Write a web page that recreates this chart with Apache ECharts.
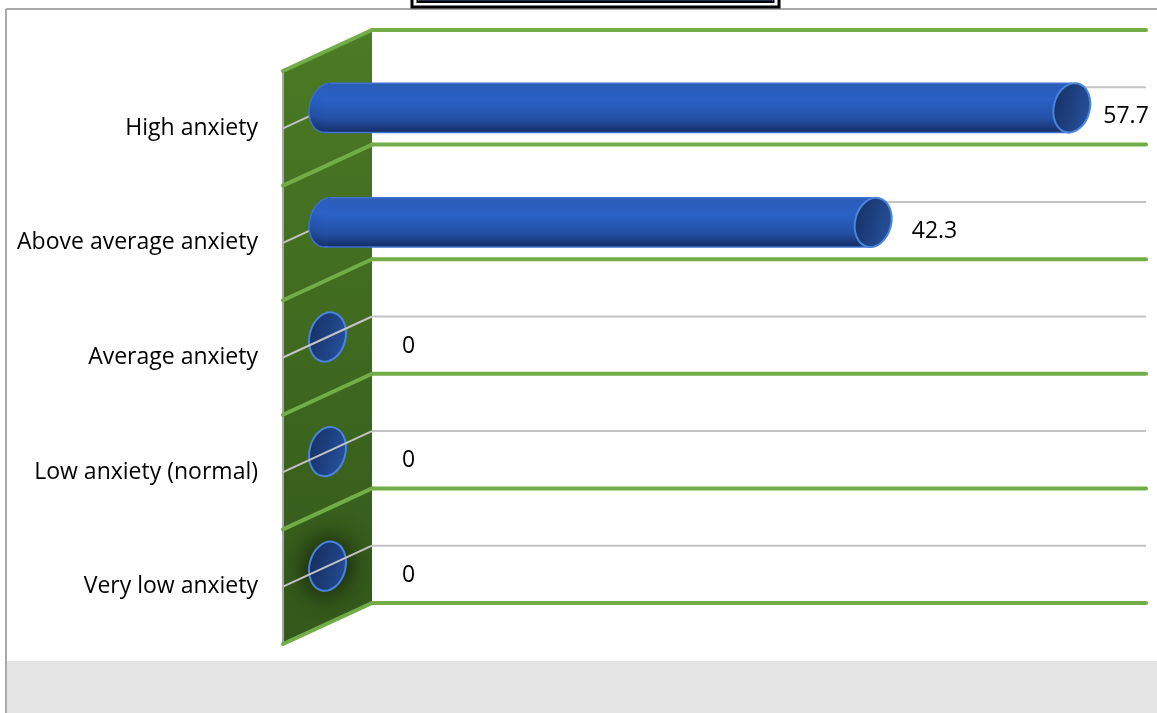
<!DOCTYPE html>
<html>
<head>
<meta charset="utf-8">
<title>Anxiety levels</title>
<script src="https://cdn.jsdelivr.net/npm/echarts@6/dist/echarts.min.js"></script>
<style>
  html, body { margin: 0; padding: 0; background: #fff; }
  #chart { width: 1157px; height: 713px; }
</style>
</head>
<body>
<div id="chart"></div>
<script>
// Categories from top to bottom, and the share (%) for each one
const categories = [
  'High anxiety',
  'Above average anxiety',
  'Average anxiety',
  'Low anxiety (normal)',
  'Very low anxiety'
];
const values = [57.7, 42.3, 0, 0, 0];
const valueAxisMin = 0;
const valueAxisMax = 60;

// Oblique projection: offset from the back plane to the front edge of the floor
const DEPTH = { dx: -89, dy: 41 };

const GREEN = '#72ad47';
const GRID_GRAY = '#c3c3c3';
const FONT = 'Open Sans';

const chart = echarts.init(document.getElementById('chart'), null, { renderer: 'canvas' });

// Side wall, floor lines and back grid lines
function renderWall(params, api) {
  const i = api.value(1);
  const band = api.size([0, 1])[1];
  const [bx, cy] = api.coord([0, i]);
  const right = api.coord([valueAxisMax, i])[0];
  const top = cy - band / 2;
  const bot = cy + band / 2;
  const children = [];

  if (i === 0) {
    const last = categories.length - 1;
    const wallTop = top;
    const wallBot = api.coord([0, last])[1] + band / 2;
    children.push({
      type: 'polygon',
      shape: { points: [[bx, wallTop], [bx, wallBot], [bx + DEPTH.dx, wallBot + DEPTH.dy], [bx + DEPTH.dx, wallTop + DEPTH.dy]] },
      style: {
        fill: new echarts.graphic.LinearGradient(0, wallTop, 0, wallBot + DEPTH.dy, [
          { offset: 0, color: '#4b7b24' },
          { offset: 1, color: '#33581b' }
        ], true)
      }
    });
    // front edge of the wall
    children.push({
      type: 'line',
      shape: { x1: bx + DEPTH.dx, y1: wallTop + DEPTH.dy, x2: bx + DEPTH.dx, y2: wallBot + DEPTH.dy },
      style: { stroke: '#a6a6a6', lineWidth: 2 }
    });
  }

  const edges = [top];
  if (i === categories.length - 1) edges.push(bot);
  edges.forEach(function (y) {
    children.push({
      type: 'line',
      shape: { x1: bx, y1: y, x2: right, y2: y },
      style: { stroke: GREEN, lineWidth: 4, lineCap: 'round' }
    });
    children.push({
      type: 'line',
      shape: { x1: bx, y1: y, x2: bx + DEPTH.dx, y2: y + DEPTH.dy },
      style: { stroke: GREEN, lineWidth: 4, lineCap: 'round' }
    });
  });

  // back grid line through the middle of the band
  children.push({
    type: 'line',
    shape: { x1: bx, y1: cy, x2: right, y2: cy },
    style: { stroke: GRID_GRAY, lineWidth: 2 }
  });

  return { type: 'group', children: children };
}

// Cylinder bars, their value labels and the wall tick lines
function renderBar(params, api) {
  const v = api.value(0);
  const i = api.value(1);
  const band = api.size([0, 1])[1];
  const [bx, cy] = api.coord([0, i]);
  const endBack = api.coord([v, i])[0];

  const x0 = bx + DEPTH.dx / 2;
  const x1 = endBack + DEPTH.dx / 2;
  const y = cy + DEPTH.dy / 2;
  const ry = band * 0.218;
  const rx = ry * 0.72;
  const tilt = -0.25;
  const halfH = Math.sqrt(rx * rx * Math.sin(tilt) ** 2 + ry * ry * Math.cos(tilt) ** 2);

  const tick = {
    type: 'line',
    shape: { x1: bx, y1: cy, x2: bx + DEPTH.dx, y2: cy + DEPTH.dy },
    style: { stroke: GRID_GRAY, lineWidth: 2 }
  };

  const capFill = new echarts.graphic.LinearGradient(0, 0, 1, 0, [
    { offset: 0, color: '#173267' },
    { offset: 1, color: '#26509d' }
  ]);
  const bodyFill = new echarts.graphic.LinearGradient(0, 0, 0, 1, [
    { offset: 0, color: '#2b5cb8' },
    { offset: 0.35, color: '#2a61c5' },
    { offset: 0.72, color: '#2350a5' },
    { offset: 1, color: '#162d64' }
  ]);

  const children = [];
  if (v > 0) {
    children.push(tick);
    children.push({
      type: 'ellipse',
      x: x0, y: y, rotation: tilt,
      shape: { cx: 0, cy: 0, rx: rx, ry: ry },
      style: { fill: bodyFill, stroke: '#3d70cf', lineWidth: 1.5 }
    });
    children.push({
      type: 'rect',
      shape: { x: x0, y: y - halfH, width: x1 - x0, height: halfH * 2 },
      style: { fill: bodyFill }
    });
    children.push({
      type: 'line',
      shape: { x1: x0 + 3, y1: y - halfH, x2: x1, y2: y - halfH },
      style: { stroke: '#3d70cf', lineWidth: 1.5 }
    });
    children.push({
      type: 'line',
      shape: { x1: x0 - 3, y1: y + halfH, x2: x1, y2: y + halfH },
      style: { stroke: '#3d70cf', lineWidth: 1.5 }
    });
    children.push({
      type: 'ellipse',
      x: x1, y: y, rotation: tilt,
      shape: { cx: 0, cy: 0, rx: rx, ry: ry },
      style: { fill: capFill, stroke: '#4a84dc', lineWidth: 2 }
    });
  } else {
    const cap = {
      type: 'ellipse',
      x: x1, y: y, rotation: tilt,
      shape: { cx: 0, cy: 0, rx: rx, ry: ry },
      style: { fill: capFill, stroke: '#4a84dc', lineWidth: 2 }
    };
    if (i === categories.length - 1) {
      cap.style.shadowBlur = 28;
      cap.style.shadowColor = 'rgba(0,0,0,0.85)';
    }
    children.push(cap);
    children.push(tick);
  }

  // value label, on the front face of the plot
  const labelX = x1 + 81 - 0.036 * (x1 - x0);
  children.push({
    type: 'text',
    x: labelX,
    y: cy + 29.5,
    style: {
      text: String(v),
      fontFamily: FONT,
      fontSize: 23,
      fill: '#000',
      align: 'center',
      verticalAlign: 'middle'
    }
  });

  return { type: 'group', children: children };
}

const option = {
  backgroundColor: '#fff',
  animation: false,
  grid: { left: 372, right: 11, top: 30, bottom: 110, containLabel: false },
  xAxis: {
    type: 'value',
    min: valueAxisMin,
    max: valueAxisMax,
    show: false
  },
  yAxis: {
    type: 'category',
    inverse: true,
    data: categories,
    axisLine: { show: false },
    axisTick: { show: false },
    splitLine: { show: false },
    axisLabel: {
      margin: 114,
      verticalAlign: 'middle',
      // an empty spacer line above drops each label to the front edge of the floor
      formatter: function (name) { return '{gap| }\n{name|' + name + '}'; },
      rich: {
        gap: { fontSize: 10, lineHeight: 82 },
        name: { fontFamily: FONT, fontSize: 23, color: '#000', lineHeight: 30 }
      }
    }
  },
  graphic: [
    // chart area frame and lower panel
    { type: 'line', shape: { x1: 6, y1: 9, x2: 1157, y2: 9 }, style: { stroke: '#8e8e8e', lineWidth: 1.5 }, z: 10 },
    { type: 'line', shape: { x1: 6, y1: 9, x2: 6, y2: 713 }, style: { stroke: '#8e8e8e', lineWidth: 1.5 }, z: 10 },
    { type: 'rect', shape: { x: 7, y: 661, width: 1150, height: 52 }, style: { fill: '#e4e4e4' }, z: 10 },
    // title box (double border)
    { type: 'rect', shape: { x: 412, y: -30, width: 367, height: 37 }, style: { fill: '#fff', stroke: '#000', lineWidth: 3 }, z: 11 },
    { type: 'rect', shape: { x: 417.5, y: -30, width: 356, height: 32 }, style: { fill: '#dfe3ec', stroke: '#000', lineWidth: 2 }, z: 11 },
    { type: 'line', shape: { x1: 419, y1: 0.5, x2: 772, y2: 0.5 }, style: { stroke: '#1f2b4a', lineWidth: 1 }, z: 11 }
  ],
  series: [
    {
      type: 'custom',
      name: 'wall',
      coordinateSystem: 'cartesian2d',
      renderItem: renderWall,
      data: categories.map(function (c, i) { return [0, i]; }),
      encode: { x: 0, y: 1 },
      silent: true,
      z: 1
    },
    {
      type: 'custom',
      name: 'share',
      coordinateSystem: 'cartesian2d',
      renderItem: renderBar,
      data: values.map(function (v, i) { return [v, i]; }),
      encode: { x: 0, y: 1 },
      z: 2
    }
  ]
};

chart.setOption(option);
</script>
</body>
</html>
